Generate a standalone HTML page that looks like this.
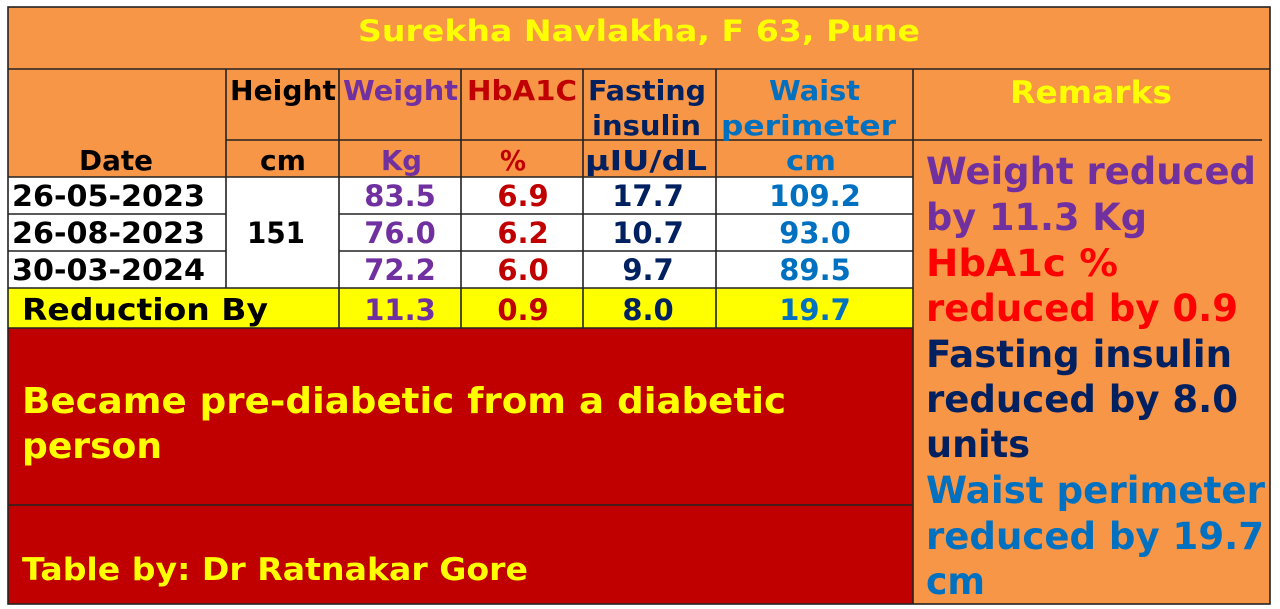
<!DOCTYPE html>
<html><head><meta charset="utf-8"><style>
html,body{margin:0;padding:0;background:#fff;width:1280px;height:609px;overflow:hidden}
svg{display:block}
text{font-family:"DejaVu Sans","Liberation Sans",sans-serif;font-weight:bold}
</style></head><body>
<svg width="1280" height="609" viewBox="0 0 1280 609" xmlns="http://www.w3.org/2000/svg">
<rect x="8" y="7" width="1262" height="597" fill="#F79646"/>
<rect x="8" y="177" width="905" height="111" fill="#fff"/>
<rect x="8" y="288" width="905" height="40" fill="#FFFF00"/>
<rect x="8" y="328" width="905" height="276" fill="#C00000"/>
<g stroke="#222" stroke-width="1.6" fill="none">
<rect x="8" y="7" width="1262" height="597"/>
<line x1="8" y1="69" x2="1270" y2="69"/>
<line x1="226" y1="140" x2="913" y2="140"/>
<line x1="913" y1="140" x2="1262" y2="140"/>
<line x1="8" y1="177" x2="913" y2="177"/>
<line x1="8" y1="214" x2="226" y2="214"/><line x1="339" y1="214" x2="913" y2="214"/>
<line x1="8" y1="251" x2="226" y2="251"/><line x1="339" y1="251" x2="913" y2="251"/>
<line x1="8" y1="288" x2="913" y2="288"/>
<line x1="8" y1="328" x2="913" y2="328"/>
<line x1="8" y1="505" x2="913" y2="505"/>
<line x1="226" y1="69" x2="226" y2="288"/>
<line x1="339" y1="69" x2="339" y2="328"/>
<line x1="461" y1="69" x2="461" y2="328"/>
<line x1="583" y1="69" x2="583" y2="328"/>
<line x1="716" y1="69" x2="716" y2="328"/>
<line x1="913" y1="69" x2="913" y2="604"/>
</g>
<g lengthAdjust="spacingAndGlyphs">
<text x="358" y="41" font-size="29" fill="#FFFF00" textLength="562" lengthAdjust="spacingAndGlyphs">Surekha Navlakha, F 63, Pune</text>
<text x="230" y="100" font-size="28" fill="#000" textLength="106" lengthAdjust="spacingAndGlyphs">Height</text>
<text x="343" y="100" font-size="28" fill="#7030A0" textLength="115" lengthAdjust="spacingAndGlyphs">Weight</text>
<text x="467" y="100" font-size="28" fill="#C00000" textLength="110" lengthAdjust="spacingAndGlyphs">HbA1C</text>
<text x="588" y="100" font-size="28" fill="#002060" textLength="118" lengthAdjust="spacingAndGlyphs">Fasting</text>
<text x="592" y="135" font-size="28" fill="#002060" textLength="109" lengthAdjust="spacingAndGlyphs">insulin</text>
<text x="769" y="100" font-size="28" fill="#0070C0" textLength="91" lengthAdjust="spacingAndGlyphs">Waist</text>
<text x="721" y="135" font-size="28" fill="#0070C0" textLength="175" lengthAdjust="spacingAndGlyphs">perimeter</text>
<text x="1010" y="103" font-size="31" fill="#FFFF00" textLength="162" lengthAdjust="spacingAndGlyphs">Remarks</text>
<text x="79" y="170" font-size="28" fill="#000" textLength="74" lengthAdjust="spacingAndGlyphs">Date</text>
<text x="260" y="170" font-size="28" fill="#000" textLength="46" lengthAdjust="spacingAndGlyphs">cm</text>
<text x="381" y="170" font-size="28" fill="#7030A0" textLength="41" lengthAdjust="spacingAndGlyphs">Kg</text>
<text x="500" y="170" font-size="28" fill="#C00000" textLength="26" lengthAdjust="spacingAndGlyphs">%</text>
<text x="585" y="170" font-size="28" fill="#002060" textLength="122" lengthAdjust="spacingAndGlyphs">µIU/dL</text>
<text x="786" y="170" font-size="28" fill="#0070C0" textLength="50" lengthAdjust="spacingAndGlyphs">cm</text>

<text x="12" y="206" font-size="29" fill="#000" textLength="193" lengthAdjust="spacingAndGlyphs">26-05-2023</text>
<text x="12" y="243" font-size="29" fill="#000" textLength="193" lengthAdjust="spacingAndGlyphs">26-08-2023</text>
<text x="12" y="280" font-size="29" fill="#000" textLength="193" lengthAdjust="spacingAndGlyphs">30-03-2024</text>
<text x="247" y="243" font-size="29" fill="#000" textLength="58" lengthAdjust="spacingAndGlyphs">151</text>
</g>
<g font-size="29" text-anchor="middle">
<text x="400" y="206" fill="#7030A0">83.5</text>
<text x="400" y="243" fill="#7030A0">76.0</text>
<text x="400" y="280" fill="#7030A0">72.2</text>
<text x="400" y="320" fill="#7030A0">11.3</text>
<text x="523" y="206" fill="#C00000">6.9</text>
<text x="523" y="243" fill="#C00000">6.2</text>
<text x="523" y="280" fill="#C00000">6.0</text>
<text x="523" y="320" fill="#C00000">0.9</text>
<text x="648" y="206" fill="#002060">17.7</text>
<text x="648" y="243" fill="#002060">10.7</text>
<text x="648" y="280" fill="#002060">9.7</text>
<text x="648" y="320" fill="#002060">8.0</text>
<text x="815" y="206" fill="#0070C0">109.2</text>
<text x="815" y="243" fill="#0070C0">93.0</text>
<text x="815" y="280" fill="#0070C0">89.5</text>
<text x="815" y="320" fill="#0070C0">19.7</text>
</g>
<text x="22" y="320" font-size="30" fill="#000" textLength="246" lengthAdjust="spacingAndGlyphs">Reduction By</text>

<g font-size="37">
<text x="926" y="184" fill="#7030A0" textLength="330" lengthAdjust="spacingAndGlyphs">Weight reduced</text>
<text x="926" y="230" fill="#7030A0" textLength="221" lengthAdjust="spacingAndGlyphs">by 11.3 Kg</text>
<text x="926" y="276" fill="#FF0000" textLength="192" lengthAdjust="spacingAndGlyphs">HbA1c %</text>
<text x="926" y="321" fill="#FF0000" textLength="312" lengthAdjust="spacingAndGlyphs">reduced by 0.9</text>
<text x="926" y="367" fill="#002060" textLength="306" lengthAdjust="spacingAndGlyphs">Fasting insulin</text>
<text x="926" y="412" fill="#002060" textLength="312" lengthAdjust="spacingAndGlyphs">reduced by 8.0</text>
<text x="926" y="457" fill="#002060" textLength="104" lengthAdjust="spacingAndGlyphs">units</text>
<text x="926" y="503" fill="#0070C0" textLength="339" lengthAdjust="spacingAndGlyphs">Waist perimeter</text>
<text x="926" y="549" fill="#0070C0" textLength="338" lengthAdjust="spacingAndGlyphs">reduced by 19.7</text>
<text x="926" y="594" fill="#0070C0" textLength="59" lengthAdjust="spacingAndGlyphs">cm</text>
</g>
<text x="22" y="413" font-size="36" fill="#FFFF00" textLength="764" lengthAdjust="spacingAndGlyphs">Became pre-diabetic from a diabetic</text>
<text x="22" y="458" font-size="36" fill="#FFFF00" textLength="140" lengthAdjust="spacingAndGlyphs">person</text>
<text x="22" y="580" font-size="31" fill="#FFFF00" textLength="506" lengthAdjust="spacingAndGlyphs">Table by: Dr Ratnakar Gore</text>
</svg>
</body></html>
